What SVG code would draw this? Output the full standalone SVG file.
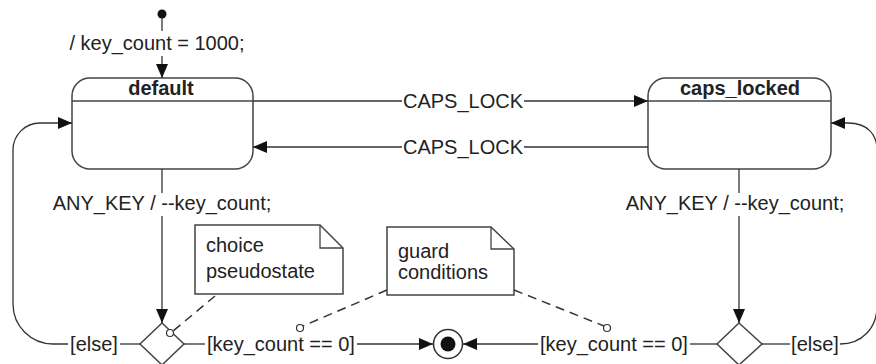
<svg xmlns="http://www.w3.org/2000/svg" width="876" height="364" viewBox="0 0 876 364">
<defs>
<style>
.t{font-family:"Liberation Sans",Arial,sans-serif;font-size:20px;fill:#222}
.b{font-weight:bold;text-anchor:middle}
.m{text-anchor:middle}
.ln{fill:none;stroke:#333;stroke-width:1.3}
.box{fill:#fff;stroke:#444;stroke-width:1.5}
.dash{fill:none;stroke:#333;stroke-width:1.5;stroke-dasharray:9 6}
.anchor{fill:#fff;stroke:#333;stroke-width:1.2}
</style>
<marker id="ah" markerUnits="userSpaceOnUse" markerWidth="15" markerHeight="13" refX="14" refY="6" orient="auto">
<path d="M0,0 L14,6 L0,12 z" fill="#111"/>
</marker>
</defs>
<rect width="876" height="364" fill="#fff"/>

<g id="initial">
<circle cx="162" cy="14" r="4.5" fill="#111"/>
</g>

<g id="default">
<rect class="box" x="72" y="78" width="181" height="91" rx="18"/>
<line x1="72" y1="101" x2="253" y2="101" stroke="#444" stroke-width="1.5"/>
<text class="t b" x="161" y="95">default</text>
</g>

<g id="caps_locked">
<rect class="box" x="648" y="78" width="183" height="91" rx="18"/>
<line x1="648" y1="101" x2="831" y2="101" stroke="#444" stroke-width="1.5"/>
<text class="t b" x="740" y="95">caps_locked</text>
</g>

<g id="choice_left">
<polygon class="box" points="162,323 184,344 162,365 140,344"/>
</g>

<g id="choice_right">
<polygon class="box" points="739,323 762,344 739,365 717,344"/>
</g>

<g id="final">
<circle cx="448" cy="344" r="14.5" fill="#fff" stroke="#333" stroke-width="1.5"/>
<circle cx="448" cy="344" r="7.5" fill="#111"/>
</g>

<g id="note_choice">
<path class="box" d="M195,225 H320 L343,248 V294 H195 Z"/>
<path d="M320,225 V248 H343" fill="none" stroke="#444" stroke-width="1.3"/>
<text class="t" x="206" y="252">choice</text>
<text class="t" x="206" y="278">pseudostate</text>
</g>

<g id="note_guard">
<path class="box" d="M387,227 H491 L514,249 V295 H387 Z"/>
<path d="M491,227 V249 H514" fill="none" stroke="#444" stroke-width="1.3"/>
<text class="t" x="398" y="258">guard</text>
<text class="t" x="398" y="279">conditions</text>
</g>

<g id="connectors">
<!-- initial transition -->
<line class="ln" x1="162" y1="18" x2="162" y2="31"/>
<text class="t m" x="157" y="50">/ key_count = 1000;</text>
<line class="ln" x1="162" y1="56" x2="162" y2="78" marker-end="url(#ah)"/>

<!-- CAPS_LOCK default -> caps_locked -->
<line class="ln" x1="253" y1="101" x2="402" y2="101"/>
<text class="t m" x="463" y="108">CAPS_LOCK</text>
<line class="ln" x1="524" y1="101" x2="648" y2="101" marker-end="url(#ah)"/>

<!-- CAPS_LOCK caps_locked -> default -->
<line class="ln" x1="648" y1="147" x2="524" y2="147"/>
<text class="t m" x="463" y="154">CAPS_LOCK</text>
<line class="ln" x1="402" y1="147" x2="253" y2="147" marker-end="url(#ah)"/>

<!-- ANY_KEY left -->
<line class="ln" x1="162" y1="169" x2="162" y2="193"/>
<text class="t m" x="162" y="210">ANY_KEY / --key_count;</text>
<line class="ln" x1="162" y1="216" x2="162" y2="323" marker-end="url(#ah)"/>

<!-- ANY_KEY right -->
<line class="ln" x1="739" y1="169" x2="739" y2="193"/>
<text class="t m" x="735" y="210">ANY_KEY / --key_count;</text>
<line class="ln" x1="739" y1="216" x2="739" y2="323" marker-end="url(#ah)"/>

<!-- else left -->
<line class="ln" x1="140" y1="344" x2="120" y2="344"/>
<text class="t m" x="94" y="351">[else]</text>
<path class="ln" d="M68,344 H53 A40,40 0 0 1 13,304 V150 A27,27 0 0 1 40,123 H72" marker-end="url(#ah)"/>

<!-- else right -->
<line class="ln" x1="762" y1="344" x2="790" y2="344"/>
<text class="t m" x="815" y="351">[else]</text>
<path class="ln" d="M840,344 C862,344 877,328 877,306 V150 C877,135 868,123 848,123 H831" marker-end="url(#ah)"/>

<!-- key_count == 0 left -->
<line class="ln" x1="184" y1="344" x2="205" y2="344"/>
<text class="t m" x="281" y="351">[key_count == 0]</text>
<line class="ln" x1="357" y1="344" x2="433" y2="344" marker-end="url(#ah)"/>

<!-- key_count == 0 right -->
<line class="ln" x1="717" y1="344" x2="690" y2="344"/>
<text class="t m" x="614" y="351">[key_count == 0]</text>
<line class="ln" x1="538" y1="344" x2="463" y2="344" marker-end="url(#ah)"/>

<!-- note anchors -->
<line class="dash" x1="215" y1="296" x2="173" y2="331"/>
<circle class="anchor" cx="170" cy="333" r="3.5"/>
<line class="dash" x1="387" y1="290" x2="303" y2="326"/>
<circle class="anchor" cx="300" cy="328" r="3.5"/>
<line class="dash" x1="514" y1="290" x2="604" y2="326"/>
<circle class="anchor" cx="607" cy="328" r="3.5"/>
</g>
</svg>
